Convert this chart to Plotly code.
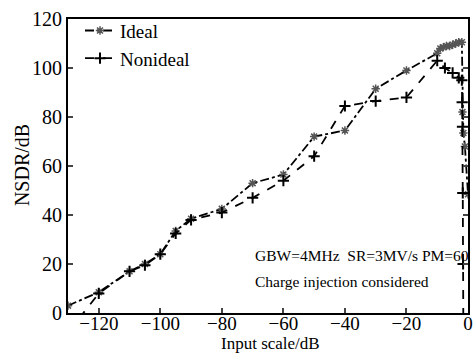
import plotly.graph_objects as go

ideal_x = [-130, -120, -110, -105, -100, -95, -90, -80, -70, -60, -50, -40, -30, -20,
           -10, -9, -8, -7, -6, -5, -4, -3, -2, -1.8, -1.5, -1, 0]
ideal_y = [3, 8.5, 17, 20, 24, 33.5, 38.5, 42.5, 53, 56.5, 72, 74.5, 91.5, 99,
           106, 108, 108.5, 109, 109, 109.5, 110, 110.5, 110.5, 82, 73.5, 68, 48.5]

nonideal_x = [-130, -120, -110, -105, -100, -95, -90, -80, -70, -60, -50, -40, -30, -20,
              -10, -7.5, -5, -3, -2, -1.9, -1.8, -1.7, -1.6, -1.5]
nonideal_y = [-8, 8, 17, 19.5, 24, 32.5, 38, 41, 47, 54, 64, 84.5, 86.5, 88,
              103, 100, 98, 96, 95, 86, 76, 49, 20, -10]

x_ticks = [-120, -100, -80, -60, -40, -20, 0]
y_ticks = [0, 20, 40, 60, 80, 100, 120]

font_family = "Liberation Serif"

fig = go.Figure()
fig.add_trace(go.Scatter(
    x=ideal_x, y=ideal_y, mode="lines+markers", name="Ideal",
    line=dict(color="black", width=1.8, dash="dashdot"),
    marker=dict(symbol="asterisk-open", size=7, color="#555555",
                line=dict(color="#555555", width=1.5)),
))
fig.add_trace(go.Scatter(
    x=nonideal_x, y=nonideal_y, mode="lines+markers", name="Nonideal",
    line=dict(color="black", width=1.8, dash="dash"),
    marker=dict(symbol="cross-thin-open", size=8, color="black",
                line=dict(color="black", width=2)),
))

fig.add_annotation(x=-69.8, y=23.5, xref="x", yref="y", showarrow=False,
                   xanchor="left", yanchor="middle",
                   text="GBW=4MHz  SR=3MV/s PM=60",
                   font=dict(family=font_family, size=15.5, color="black"))
fig.add_annotation(x=-69.8, y=13.0, xref="x", yref="y", showarrow=False,
                   xanchor="left", yanchor="middle",
                   text="Charge injection considered",
                   font=dict(family=font_family, size=15.5, color="black"))

# axis titles as annotations (fixed positions)
fig.add_annotation(x=0.505, y=0, xref="paper", yref="paper", showarrow=False,
                   xanchor="center", yanchor="top", yshift=-19,
                   text="Input scale/dB",
                   font=dict(family=font_family, size=17, color="black"))
fig.add_annotation(x=0, y=0.503, xref="paper", yref="paper", showarrow=False,
                   xanchor="center", yanchor="middle", xshift=-46, textangle=-90,
                   text="NSDR/dB",
                   font=dict(family=font_family, size=20, color="black"))

fig.update_layout(
    width=476, height=353,
    margin=dict(l=68, r=8, t=19, b=40, autoexpand=False),
    paper_bgcolor="white", plot_bgcolor="white",
    font=dict(family=font_family, size=19, color="black"),
    showlegend=True,
    legend=dict(x=0.03, y=1.025, xanchor="left", yanchor="top",
                bgcolor="rgba(0,0,0,0)", font=dict(family=font_family, size=19),
                tracegroupgap=0, itemwidth=30),
    xaxis=dict(range=[-130, 0], tickvals=x_ticks, ticks="inside", ticklen=5,
               tickwidth=1.5, showline=True, linecolor="black", linewidth=2,
               mirror=True, showgrid=False, zeroline=False, ticklabelstandoff=-8,
               automargin=False,
               tickfont=dict(family=font_family, size=19)),
    yaxis=dict(range=[0, 120], tickvals=y_ticks, ticks="inside", ticklen=5,
               tickwidth=1.5, showline=True, linecolor="black", linewidth=2,
               mirror="ticks", showgrid=False, zeroline=False, automargin=False,
               tickfont=dict(family=font_family, size=20)),
)

fig.write_html("out.html")
